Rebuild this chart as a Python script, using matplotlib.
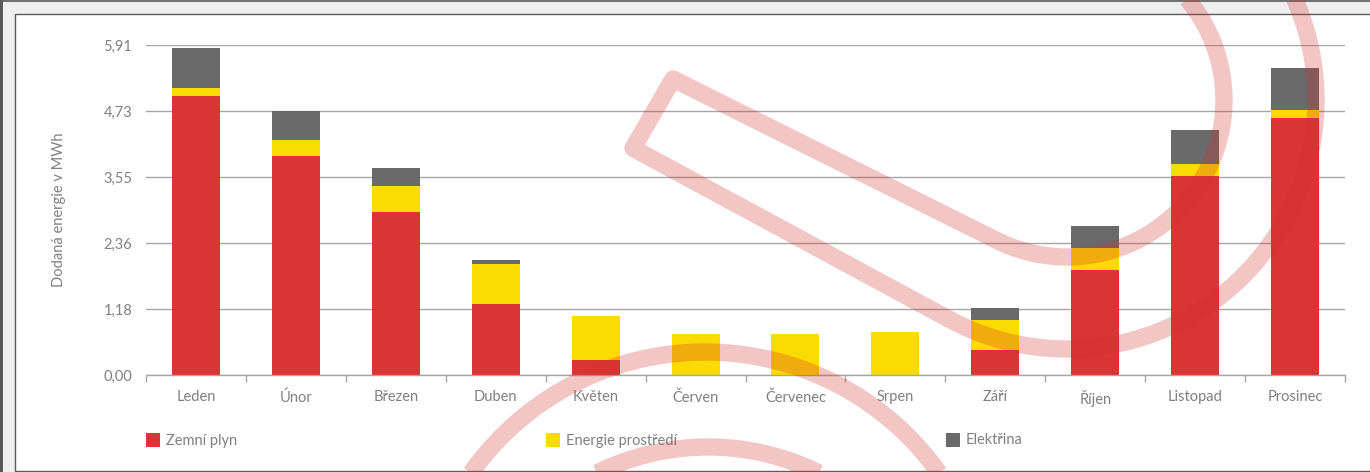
import numpy as np
import matplotlib
matplotlib.use("Agg")
import matplotlib.pyplot as plt
from matplotlib.patches import Rectangle, PathPatch
from matplotlib.path import Path

# ---------------- data ----------------
months = ["Leden", "Únor", "Březen", "Duben", "Květen", "Červen",
          "Červenec", "Srpen", "Září", "Říjen", "Listopad", "Prosinec"]
zemni_plyn = [5.00, 3.92, 2.92, 1.27, 0.27, 0.00, 0.00, 0.00, 0.45, 1.88, 3.56, 4.60]
energie_prostredi = [0.14, 0.29, 0.47, 0.72, 0.79, 0.73, 0.73, 0.77, 0.54, 0.39, 0.22, 0.14]
elektrina = [0.72, 0.51, 0.32, 0.07, 0.00, 0.00, 0.00, 0.00, 0.21, 0.40, 0.61, 0.75]
series_names = ["Zemní plyn", "Energie prostředí", "Elektřina"]
y_max = 5.91
y_tick_labels = ["0,00", "1,18", "2,36", "3,55", "4,73", "5,91"]
y_label = "Dodaná energie v MWh"

# ---------------- style ----------------
plt.rcParams['font.family'] = ['Lato', 'DejaVu Sans']
C_RED, C_YEL, C_GRY = "#DA3434", "#FCDA04", "#6A6A6B"
colors = [C_RED, C_YEL, C_GRY]
TXT = "#808080"
GRID = "#a6a6a6"

W, H = 1370, 472
fig = plt.figure(figsize=(W / 100, H / 100), dpi=100)
fig.patch.set_facecolor("#efefef")

# background / frame in pixel coordinates
bg = fig.add_axes([0, 0, 1, 1], zorder=-10)
bg.set_xlim(0, W)
bg.set_ylim(H, 0)
bg.axis("off")
bg.add_patch(Rectangle((15.5, 13.5), W, 457, facecolor="white",
                       edgecolor="#5c5c5c", lw=1.0))
bg.add_patch(Rectangle((0, 0), 3, H, facecolor="#5a5a5a", edgecolor="none"))
bg.plot([0, W], [0.5, 0.5], color="#5a5a5a", lw=1.2)

# main axes
L, R, T, B = 146, 1345, 45, 375
ax = fig.add_axes([L / W, (H - B) / H, (R - L) / W, (B - T) / H])
ax.set_facecolor("none")
x = np.arange(len(months))
bw = 0.48
bottom = np.zeros(len(months))
for vals, col in zip([zemni_plyn, energie_prostredi, elektrina], colors):
    ax.bar(x, vals, bw, bottom=bottom, color=col, zorder=3)
    bottom += np.array(vals)

ax.set_xlim(-0.5, len(months) - 0.5)
ax.set_ylim(0, y_max)
ax.set_yticks(np.linspace(0, y_max, len(y_tick_labels)))
ax.set_yticklabels(y_tick_labels)
ax.set_xticks(x)
ax.set_xticklabels(months)
ax.set_xticks(np.arange(-0.5, len(months)), minor=True)
ax.tick_params(axis="x", which="major", length=0, pad=11, labelsize=10.5, labelcolor=TXT)
ax.tick_params(axis="x", which="minor", length=5, width=1, color=GRID, direction="out")
ax.tick_params(axis="y", length=0, pad=10, labelsize=10.5, labelcolor=TXT)
ax.yaxis.grid(True, color=GRID, lw=1.0, zorder=0)
ax.set_axisbelow(True)
for s in ["top", "right", "left"]:
    ax.spines[s].set_visible(False)
ax.spines["bottom"].set_color(GRID)
ax.spines["bottom"].set_linewidth(1.0)
ax.spines["bottom"].set_zorder(4)
ax.set_ylabel(y_label, color=TXT, fontsize=10.5)
ax.yaxis.set_label_coords((66 - L) / (R - L), 0.5)

# legend (manual layout)
for i, (name, col) in enumerate(zip(series_names, colors)):
    lx = 146 + 400 * i
    bg.add_patch(Rectangle((lx, 433), 14, 14, facecolor=col, edgecolor="none"))
    bg.text(lx + 20, 440.5, name, color=TXT, fontsize=10.5, va="center", ha="left")

# watermark overlay
fg = fig.add_axes([0, 0, 1, 1], zorder=10)
fg.set_xlim(0, W)
fg.set_ylim(H, 0)
fg.axis("off")
fg.patch.set_alpha(0)
WM = dict(facecolor="none", edgecolor=(0.83, 0.18, 0.18, 0.27), lw=12.5,
          joinstyle="round", capstyle="butt")

# paperclip shape (upper right)
cx, cy, r1, r2 = 1067.0, 100.0, 157.0, 249.0
a = np.deg2rad(26.5)
d = np.array([np.cos(a), np.sin(a)])
n = np.array([-np.sin(a), np.cos(a)])
th_t = np.arctan2(n[1], n[0])
th1 = np.linspace(np.arcsin(-130 / r1), th_t, 120)
th2 = np.linspace(th_t + 0.04, np.arcsin(-130 / r2), 160)
arc1 = np.c_[cx + r1 * np.cos(th1), cy + r1 * np.sin(th1)]
arc2 = np.c_[cx + r2 * np.cos(th2), cy + r2 * np.sin(th2)]
T1 = np.array([cx, cy]) + r1 * n
P1 = T1 - 362 * d
P2 = P1 + 80 * np.array([-0.5, 0.866])
pts = np.vstack([arc1, P1, P2, arc2])
fg.add_patch(PathPatch(Path(pts), **WM))

# arcs at the bottom
for (bx, by, br) in [(705, 639, 287), (708, 697, 250)]:
    th = np.linspace(np.pi * 1.0, np.pi * 2.0, 200)
    p = np.c_[bx + br * np.cos(th), by + br * np.sin(th)]
    fg.add_patch(PathPatch(Path(p), **WM))

fig.savefig("out.png", dpi=100, facecolor=fig.get_facecolor())
